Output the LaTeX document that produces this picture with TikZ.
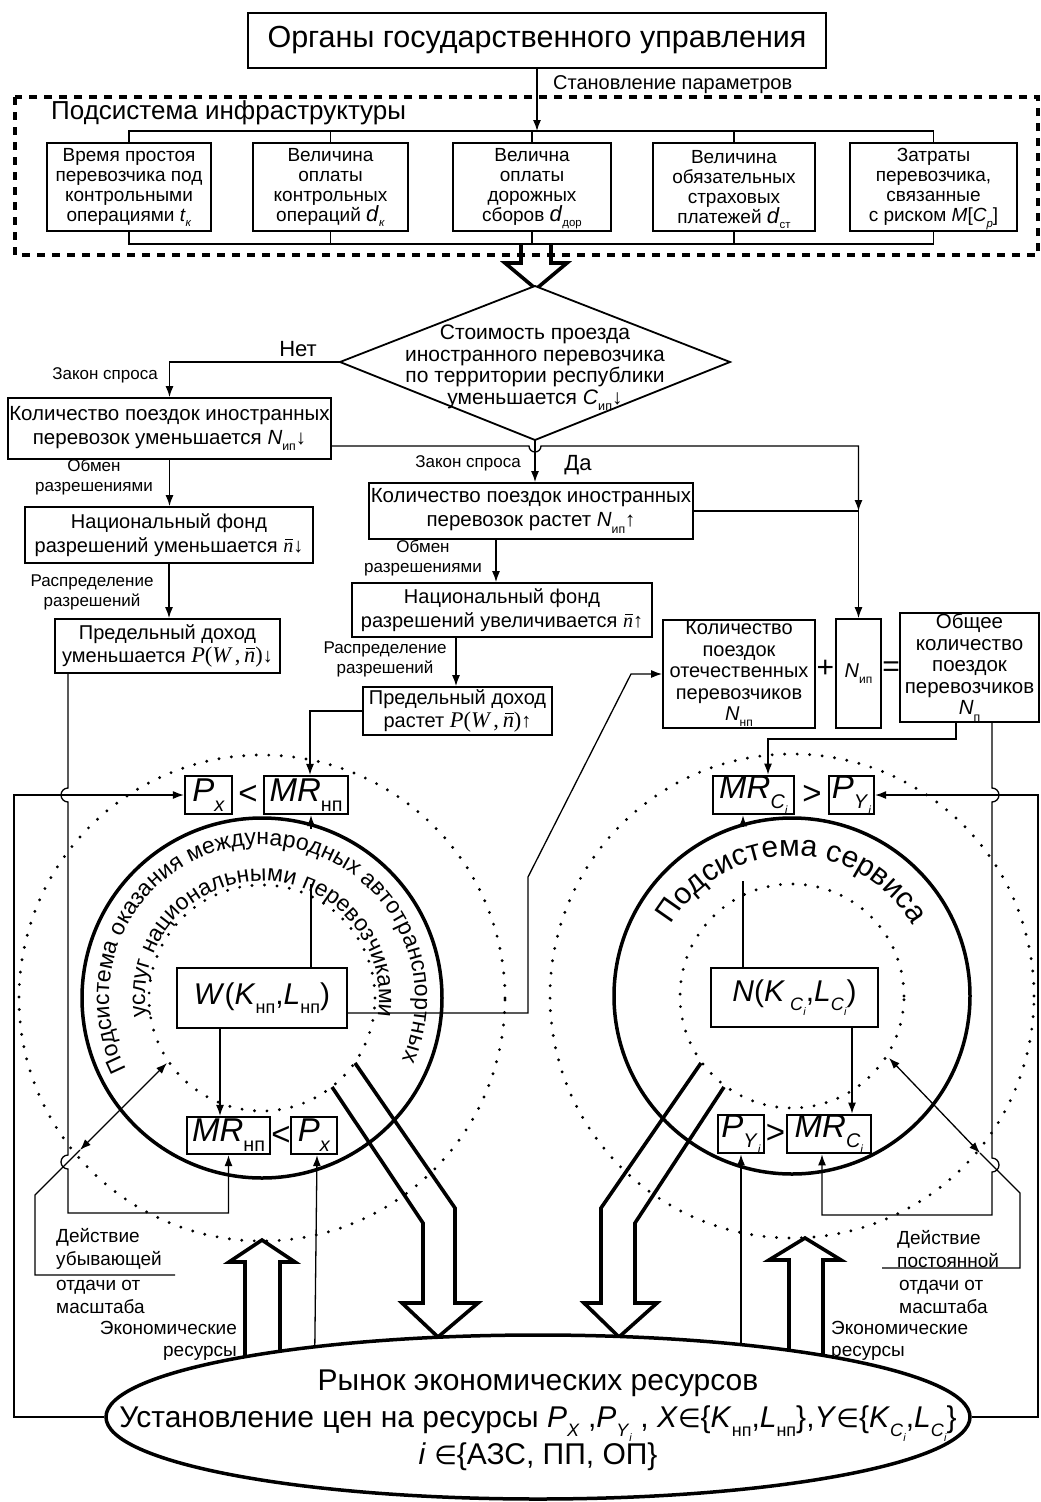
\documentclass[tikz,border=0pt]{standalone}
\usepackage{fontspec}
\usepackage{graphicx}
\setmainfont{Liberation Sans}
\newfontfamily\tmsf{Liberation Serif}
\newfontfamily\dvf{DejaVu Sans}
\usetikzlibrary{arrows.meta,shapes.geometric,decorations.text,calc}
\pgfdeclarelayer{front}
\pgfsetlayers{main,front}
\newcommand\fs[2]{\fontsize{#1}{#2}\selectfont}
\newcommand\iv[1]{\textit{#1}}
\newcommand\sbi[1]{\raisebox{-0.3em}{\scalebox{0.6}{#1}}}
\newcommand\nbar{{\tmsf\itshape\makebox[0pt][l]{\kern0.1em\raisebox{0.62em}{\rule{0.4em}{0.05em}}}n}}
\newcommand\PWn{\scalebox{1.12}{\tmsf{\itshape P}({\itshape W}\,,\,\nbar)}}
\newcommand\rfont{\fontsize{23}{26}\selectfont}
\newcommand\sfont{\fontsize{30}{34}\selectfont}
\newcommand\ein{{\dvf\fontsize{26}{30}\selectfont ∈}}
\newcommand\dv[1]{\smash{{\fs{22}{20}\iv{d}}\sbi{#1}}}
\tikzset{
  bx/.style={draw, line width=1.8pt, fill=white, inner sep=0pt, align=center},
  ln/.style={line width=1.3pt},
  arr/.style={line width=1.3pt, -{Latex[length=11pt,width=8pt]}},
  dbl/.style={line width=1.3pt, {Latex[length=11pt,width=8pt]}-{Latex[length=11pt,width=8pt]}},
  lbl/.style={font=\fs{17}{20}, align=center, inner sep=0pt},
  lblb/.style={font=\fs{19}{22.5}, inner sep=0pt},
  hol/.style={line width=3.6pt, line join=miter},
  dots/.style={line width=3.2pt, line cap=round, dash pattern=on 0pt off 12.5pt},
  thick circ/.style={line width=3.5pt},
  mrbox/.style={bx, line width=2.2pt, font=\fs{33}{36}},
  rel/.style={font=\fs{33}{36}, inner sep=0pt}
}
\begin{document}
\begin{tikzpicture}[x=1pt,y=1pt]
\fill[white] (0,0) rectangle (1041,-1502);
\useasboundingbox (0,0) rectangle (1041,-1502);

% ---------- circles ----------
\draw[dots] (262,-998) circle[radius=243];
\draw[dots] (262,-998) circle[radius=113];
\draw[thick circ] (262,-998) circle[radius=180];
\draw[dots] (792,-996) circle[radius=242];
\draw[dots] (792,-996) circle[radius=112];
\draw[thick circ] (792,-996) circle[radius=178];

\path[decorate, decoration={text along path, text align=center,
  text={|\rfont|Подсистема оказания международных автотранспортных}}]
  (262,-998) ++(219:153) arc[start angle=219, end angle=-35, radius=153];
\path[decorate, decoration={text along path, text align=center,
  text={|\rfont|услуг национальными перевозчиками}}]
  (262,-998) ++(217:117) arc[start angle=217, end angle=-37, radius=117];
\path[decorate, decoration={text along path, text align=center,
  text={|\sfont|Подсистема сервиса}}]
  (792,-996) ++(175:140) arc[start angle=175, end angle=5, radius=140];

% ---------- market ellipse (front) ----------
\begin{pgfonlayer}{front}
\node[draw, ellipse, line width=3.5pt, fill=white, minimum width=864pt,
      minimum height=164pt, inner sep=0pt] (mkt) at (538,-1417) {};
\node[font=\fs{30}{37}, align=center, inner sep=0pt] (mkttxt) at (538,-1420)
 {Рынок экономических ресурсов\\
  Установление цен на ресурсы \iv{P}\sbi{\iv{X}} ,\iv{P}\sbi{\iv{Y}\sbi{\iv{i}}} , \iv{X}\ein\{\iv{K}\sbi{нп},\iv{L}\sbi{нп}\},\iv{Y}\ein\{\iv{K}\sbi{\iv{C}\sbi{\iv{i}}},\iv{L}\sbi{\iv{C}\sbi{\iv{i}}}\}\\
  \iv{i} \ein\{АЗС, ПП, ОП\}};
\end{pgfonlayer}

% ---------- top ----------
\node[bx, minimum width=578pt, minimum height=55pt, font=\fs{30.5}{34}] (title) at (537,-40.5) {Органы государственного управления};
\node[font=\fs{20}{24}, anchor=west, inner sep=0pt] (lpar) at (553,-85) {Становление параметров};
\draw[line width=3.5pt, dash pattern=on 8pt off 7pt] (15,-97) rectangle (1038,-255);
\node[font=\fs{26}{30}, anchor=west, inner sep=0pt] (linfra) at (51,-113) {Подсистема инфраструктуры};

\begin{scope}[every node/.style={bx, minimum height=88pt, font=\fs{19}{19.8}}]
\node[minimum width=164pt] (B1) at (129,-187) {Время простоя\\перевозчика под\\контрольными\\операциями \smash{\iv{t}\sbi{\iv{к}}}};
\node[minimum width=155pt] (B2) at (330.5,-187) {Величина\\оплаты\\контрольных\\операций \dv{\iv{к}}};
\node[minimum width=158pt] (B3) at (532,-187) {Велична\\оплаты\\дорожных\\сборов \dv{дор}};
\node[minimum width=162pt] (B4) at (734,-187) {Величина\\обязательных\\страховых\\платежей \dv{ст}};
\node[minimum width=167pt] (B5) at (933.5,-187) {Затраты\\перевозчика,\\связанные\\с риском \smash{\iv{M}[\iv{C}\sbi{\iv{p}}]}};
\end{scope}
\coordinate (busT) at (0,-131);
\coordinate (busB) at (0,-244);
\draw[arr] (title.south) -- (title.south |- busT);
\draw[ln] (B1.north) -- (B1.north |- busT) -- (B5.north |- busT) -- (B5.north);
\foreach \b in {B2,B3,B4} \draw[ln] (\b.north) -- (\b.north |- busT);
\draw[ln] (B1.south) -- (B1.south |- busB) -- (B5.south |- busB) -- (B5.south);
\foreach \b in {B2,B3,B4} \draw[ln] (\b.south) -- (\b.south |- busB);
% hollow arrow
\draw[hol] (521,-244) -- (521,-263) -- (505,-263) -- (536,-289) -- (567,-263) -- (551,-263) -- (551,-244);

% ---------- diamond ----------
\coordinate (dT) at (535,-286);
\coordinate (dR) at (730,-362);
\coordinate (dB) at (535,-440);
\coordinate (dL) at (340,-362);
\draw[line width=1.8pt, fill=white] (dT) -- (dR) -- (dB) -- (dL) -- cycle;
\node[font=\fs{21}{21.5}, align=center, inner sep=0pt] (dtxt) at (535,-368)
 {Стоимость проезда\\иностранного перевозчика\\по территории республики\\уменьшается \iv{C}\sbi{ип}↓};
\node[font=\fs{22}{24}, inner sep=0pt] (lnet) at (298,-349) {Нет};
\node[font=\fs{22}{24}, inner sep=0pt] (lda) at (578,-465) {Да};

% ---------- left column ----------
\node[bx, minimum width=323pt, minimum height=61pt, font=\fs{20.5}{24}] (LB1) at (169.5,-428.5)
 {Количество поездок иностранных\\перевозок уменьшается \iv{N}\sbi{ип}↓};
\node[bx, minimum width=288pt, minimum height=56pt, font=\fs{20}{23.5}] (LB2) at (169,-535)
 {Национальный фонд\\разрешений уменьшается \nbar↓};
\node[bx, minimum width=225pt, minimum height=54pt, font=\fs{20}{23.5}] (LB3) at (167.5,-646)
 {Предельный доход\\уменьшается \PWn↓};
\draw[arr] (dL) -| (LB1.north);
\draw[arr] (LB1.south) -- (LB1.south |- LB2.north);
\draw[arr] (LB2.south) -- (LB2.south |- LB3.north);
\node[lbl, anchor=east] (lz1) at (158,-375) {Закон спроса};
\node[lbl] (lo1) at (94,-477) {Обмен\\разрешениями};
\node[lbl] (lr1) at (92,-592) {Распределение\\разрешений};

% ---------- middle column ----------
\node[bx, minimum width=324pt, minimum height=56pt, font=\fs{20.5}{24}] (MB1) at (531,-511)
 {Количество поездок иностранных\\перевозок растет \iv{N}\sbi{ип}↑};
\node[bx, minimum width=300pt, minimum height=54pt, font=\fs{20}{23.5}] (MB2) at (502,-610)
 {Национальный фонд\\разрешений увеличивается \nbar↑};
\node[bx, minimum width=189pt, minimum height=48pt, font=\fs{20}{23.5}] (MB3) at (457.5,-711)
 {Предельный доход\\растет \PWn↑};
\draw[arr] (dB) -- (dB |- MB1.north);
\draw[arr] ([xshift=-35]MB1.south) -- ([xshift=-35]MB1.south |- MB2.north);
\draw[arr] ([xshift=-46]MB2.south) -- ([xshift=-46]MB2.south |- MB3.north);
\node[lbl, anchor=east] (lz2) at (521,-463) {Закон спроса};
\node[lbl] (lo2) at (423,-558) {Обмен\\разрешениями};
\node[lbl] (lr2) at (385,-659) {Распределение\\разрешений};

% ---------- right boxes ----------
\node[bx, minimum width=152pt, minimum height=108pt, font=\fs{20}{21.5}] (NNP) at (739,-674)
 {Количество\\поездок\\отечественных\\перевозчиков\\\iv{N}\sbi{нп}};
\node[bx, minimum width=45pt, minimum height=109pt, font=\fs{20}{21.5}] (NIP) at (858.5,-673.5) {\iv{N}\sbi{ип}};
\node[bx, minimum width=139pt, minimum height=109pt, font=\fs{20.5}{21.5}] (NP) at (969.5,-667.5)
 {Общее\\количество\\поездок\\перевозчиков\\\iv{N}\sbi{п}};
\node[font=\fs{30}{30}, inner sep=0pt] (plus) at (825.5,-669) {+};
\node[font=\fs{30}{30}, inner sep=0pt] (eq) at (891,-669) {=};

\coordinate (hy) at (0,-446);
\coordinate (jn) at (NIP.north |- MB1.east);
\draw[arr] ([yshift=-17.5]LB1.east) -- (529,-446) arc[start angle=180, end angle=360, radius=6] -- (jn |- hy) -- (jn);
\draw[arr] (MB1.east) -- (jn) -- (NIP.north);

% ---------- left circle boxes ----------
\node[mrbox, minimum width=47pt, minimum height=38pt] (PX1) at (208.5,-795) {\iv{P}\sbi{\iv{x}}};
\node[rel] (lt1) at (248,-795) {<};
\node[mrbox, minimum width=84pt, minimum height=38pt] (MRN1) at (306,-795) {\iv{MR}\sbi{нп}};
\node[bx, minimum width=170pt, minimum height=60pt, font=\fs{30}{34}] (W) at (262,-998)
 {\iv{W}(\iv{K}\sbi{нп},\iv{L}\sbi{нп})};
\node[mrbox, minimum width=83pt, minimum height=37pt] (MRN2) at (228.5,-1135.5) {\iv{MR}\sbi{нп}};
\node[rel] (lt2) at (281,-1136) {<};
\node[mrbox, minimum width=46pt, minimum height=37pt] (PX2) at (314,-1135.5) {\iv{P}\sbi{\iv{x}}};

% ---------- right circle boxes ----------
\node[mrbox, minimum width=81pt, minimum height=36pt] (MRC1) at (753.5,-795) {\iv{MR}\sbi{\iv{C}\sbi{\iv{i}}}};
\node[rel] (gt1) at (812,-795) {>};
\node[mrbox, minimum width=45pt, minimum height=36pt] (PY1) at (851.5,-795) {\iv{P}\sbi{\iv{Y}\sbi{\iv{i}}}};
\node[bx, minimum width=167pt, minimum height=59pt, font=\fs{30}{34}] (N) at (794.5,-997.5)
 {\iv{N}(\iv{K}\,\sbi{\iv{C}\sbi{\iv{i}}},\iv{L}\sbi{\iv{C}\sbi{\iv{i}}})};
\node[mrbox, minimum width=46pt, minimum height=38pt] (PY2) at (741,-1134) {\iv{P}\sbi{\iv{Y}\sbi{\iv{i}}}};
\node[rel] (gt2) at (775.5,-1134) {>};
\node[mrbox, minimum width=84pt, minimum height=38pt] (MRC2) at (829,-1134) {\iv{MR}\sbi{\iv{C}\sbi{\iv{i}}}};

% ---------- connectors left ----------
\draw[arr] (MB3.west) -| ([xshift=4]MRN1.north);
\draw[arr] (mkt.west) -- (14,-1417) |- (PX1.west);
\draw[arr] ([xshift=-99.5]LB3.south) -- (68,-788) arc[start angle=90, end angle=270, radius=7]
   -- (68,-1155) arc[start angle=90, end angle=270, radius=7] -- (68,-1213) -| (MRN2.south);
\draw[ln] ([xshift=49]W.north) -- ([xshift=49]W.north |- 0,-884);
\draw[arr] ([xshift=49]W.north |- 0,-829) -- ([xshift=49]W.north |- MRN1.south);
\draw[arr] ([xshift=-42]W.south) -- ([xshift=-42]W.south |- MRN2.north);
\draw[arr] (PX2.south |- mkt.center) -- ([xshift=3]PX2.south);
\coordinate (wa) at (528,-1013);
\coordinate (wb) at (528,-877);
\coordinate (wc) at (631,-674);
\draw[arr] ([yshift=-15]W.east) -- (wa) -- (wb) -- (wc) -- (NNP.west);
% double arrow left
\coordinate (la1) at (80,-1150);
\coordinate (la2) at (167,-1063);
\draw[dbl] (la1) -- (la2);
\draw[ln] (la1) -- (35,-1195) -- (35,-1275) -- (175,-1275);

% ---------- connectors right ----------
\draw[arr] ([xshift=-13.5]NP.south) -- ++(0,-16) -| ([xshift=14.5]MRC1.north);
\draw[arr] ([xshift=22.5]NP.south) -- (992,-788) arc[start angle=90, end angle=-90, radius=7]
   -- (992,-1158) arc[start angle=90, end angle=-90, radius=7] -- (992,-1215) -| ([xshift=-7]MRC2.south);
\draw[arr] (mkt.east) -- (1038,-1417) |- (PY1.east);
\draw[ln] ([xshift=-51.5]N.north) -- ([xshift=-51.5]N.north |- 0,-881);
\draw[arr] ([xshift=-51.5]N.north |- 0,-826) -- ([xshift=-51.5]N.north |- MRC1.south);
\draw[arr] ([xshift=57.5]N.south) -- ([xshift=57.5]N.south |- MRC2.north);
\draw[arr] (PY2.south |- mkt.center) -- (PY2.south);
\coordinate (ra1) at (980,-1153);
\coordinate (ra2) at (889,-1058);
\draw[dbl] (ra1) -- (ra2);
\draw[ln] (ra1) -- (1020,-1193) -- (1020,-1268) -- (882,-1268);

% ---------- hollow arrows ----------
\draw[hol] (245,-1400) -- (245,-1262) -- (229,-1262) -- (262,-1240) -- (295,-1262) -- (280,-1262) -- (280,-1400);
\draw[hol] (789,-1400) -- (789,-1260) -- (769,-1260) -- (805,-1238) -- (841,-1260) -- (823,-1260) -- (823,-1400);
\draw[hol] (355,-1063) -- (455,-1208) -- (455,-1303) -- (478,-1303) -- (438,-1337) -- (402,-1303) -- (423,-1303) -- (423,-1223) -- (332,-1087);
\draw[hol] (701,-1063) -- (601,-1208) -- (601,-1303) -- (584,-1303) -- (619,-1337) -- (657,-1303) -- (635,-1303) -- (635,-1223) -- (724,-1087);

% ---------- bottom labels ----------
\node[lblb, anchor=west, align=left] (ld1) at (56,-1249) {Действие\\убывающей};
\node[lblb, anchor=west, align=left] (ld2) at (56,-1297) {отдачи от\\масштаба};
\node[lblb, anchor=east, align=right] (le1) at (237,-1341) {Экономические\\ресурсы};
\node[lblb, anchor=west, align=left] (rd1) at (897,-1249) {Действие\\постоянной};
\node[lblb, anchor=west, align=left] (rd2) at (899,-1297) {отдачи от\\масштаба};
\node[lblb, anchor=west, align=left] (re1) at (831,-1341) {Экономические\\ресурсы};
\end{tikzpicture}
\end{document}
